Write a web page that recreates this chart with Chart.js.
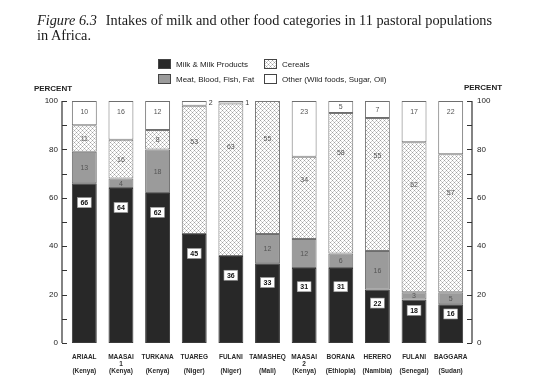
<!DOCTYPE html>
<html>
<head>
<meta charset="utf-8">
<script src="https://cdn.jsdelivr.net/npm/chart.js@4.4.0/dist/chart.umd.min.js"></script>
<style>
    html, body { margin: 0; padding: 0; background: #fff; }
    #wrap { position: relative; width: 541px; height: 385px; overflow: hidden; }
    #chart { position: absolute; left: 0; top: 0; }
    .caption {
        position: absolute; left: 37px; top: 13px; width: 500px;
        font-family: "Liberation Serif", "DejaVu Serif", serif;
        font-size: 14.3px; line-height: 15px; color: #1a1a1a;
    }
    .caption i { margin-right: 9px; }
</style>
</head>
<body>
<div id="wrap">
    <canvas id="chart" width="541" height="385"></canvas>
    <div class="caption"><i>Figure 6.3</i>Intakes of milk and other food categories in 11 pastoral populations<br>in Africa.</div>
</div>
<script>
// Data (percent of intake)
const categories = ['ARIAAL', 'MAASAI', 'TURKANA', 'TUAREG', 'FULANI', 'TAMASHEQ', 'MAASAI', 'BORANA', 'HERERO', 'FULANI', 'BAGGARA'];
const groupNumbers = ['', '1', '', '', '', '', '2', '', '', '', ''];
const countries = ['(Kenya)', '(Kenya)', '(Kenya)', '(Niger)', '(Niger)', '(Mali)', '(Kenya)', '(Ethiopia)', '(Namibia)', '(Senegal)', '(Sudan)'];

const milk = [66, 64, 62, 45, 36, 33, 31, 31, 22, 18, 16];
const meat = [13, 4, 18, 0, 0, 12, 12, 6, 16, 3, 5];
const cereals = [11, 16, 8, 53, 63, 55, 34, 58, 55, 62, 57];
const other = [10, 16, 12, 2, 1, 0, 23, 5, 7, 17, 22];

const seriesNames = ['Milk & Milk Products', 'Meat, Blood, Fish, Fat', 'Cereals', 'Other (Wild foods, Sugar, Oil)'];
const yTicks = [0, 20, 40, 60, 80, 100];

const SANS = '"Liberation Sans", Arial, sans-serif';

// dotted cross-hatch used for cereals
function makeCerealPattern() {
    const c = document.createElement('canvas');
    c.width = 4;
    c.height = 4;
    const g = c.getContext('2d');
    g.fillStyle = '#ffffff';
    g.fillRect(0, 0, 4, 4);
    g.fillStyle = '#a0a0a0';
    g.fillRect(0, 0, 1, 1);
    g.fillRect(2, 2, 1, 1);
    g.fillStyle = '#cfcfcf';
    g.fillRect(1, 1, 1, 1);
    g.fillRect(3, 3, 1, 1);
    g.fillRect(3, 1, 1, 1);
    g.fillRect(1, 3, 1, 1);
    return g.createPattern(c, 'repeat');
}

const ctx = document.getElementById('chart').getContext('2d');
const cerealFill = makeCerealPattern();

const labels = categories.map((name, i) => [name, groupNumbers[i], countries[i]]);

// inward tick marks and axis lines on both sides
const axisPlugin = {
    id: 'axisPlugin',
    afterDraw(chart) {
        const c = chart.ctx;
        const area = chart.chartArea;
        const y = chart.scales.y;
        const lx = area.left - 4;
        const rx = area.right + 3;
        c.save();
        c.strokeStyle = '#333';
        c.lineWidth = 1.2;
        c.beginPath();
        c.moveTo(lx, y.getPixelForValue(100));
        c.lineTo(lx, y.getPixelForValue(0));
        c.moveTo(rx, y.getPixelForValue(100));
        c.lineTo(rx, y.getPixelForValue(0));
        for (let v = 0; v <= 100; v += 10) {
            const py = Math.round(y.getPixelForValue(v)) + 0.5;
            c.moveTo(lx, py);
            c.lineTo(lx + 5, py);
            c.moveTo(rx, py);
            c.lineTo(rx - 5, py);
        }
        c.stroke();

        c.fillStyle = '#222';
        c.font = 'bold 8px ' + SANS;
        c.textAlign = 'center';
        c.textBaseline = 'middle';
        c.fillText('PERCENT', lx - 9, y.getPixelForValue(100) - 12);
        c.fillText('PERCENT', rx + 11, y.getPixelForValue(100) - 13);
        c.restore();
    }
};

// values written on the segments
const segmentLabels = {
    id: 'segmentLabels',
    afterDatasetsDraw(chart) {
        const c = chart.ctx;
        const y = chart.scales.y;
        const sets = chart.data.datasets;
        c.save();
        c.textAlign = 'center';
        c.textBaseline = 'middle';
        for (let j = 0; j < categories.length; j++) {
            let base = 0;
            sets.forEach((ds, i) => {
                const v = ds.data[j];
                const top = base + v;
                const bar = chart.getDatasetMeta(i).data[j];
                if (v > 0) {
                    let pos;
                    if (i === 0) pos = v - Math.min(8, v * 0.25);
                    else if (i === 2) pos = v > 20 ? top - v * 0.28 : base + v / 2;
                    else if (i === 3) pos = top - Math.min(v / 2, 4.5);
                    else pos = base + v / 2;
                    const py = y.getPixelForValue(pos);
                    if (i === 0) {
                        c.font = 'bold 7px ' + SANS;
                        const w = c.measureText(String(v)).width + 6;
                        c.fillStyle = '#fff';
                        c.fillRect(bar.x - w / 2, py - 5, w, 10);
                        c.strokeStyle = '#999';
                        c.lineWidth = 0.6;
                        c.strokeRect(bar.x - w / 2, py - 5, w, 10);
                        c.fillStyle = '#111';
                        c.fillText(String(v), bar.x, py + 0.5);
                    } else if (i === 3 && v < 3) {
                        c.font = '7px ' + SANS;
                        c.fillStyle = '#333';
                        c.fillText(String(v), bar.x + bar.width / 2 + 4, y.getPixelForValue(99));
                    } else {
                        c.font = '7px ' + SANS;
                        c.fillStyle = '#555';
                        c.fillText(String(v), bar.x, py + 0.5);
                    }
                }
                base = top;
            });
        }
        c.restore();
    }
};

// 2 x 2 legend above the plot
const gridLegend = {
    id: 'gridLegend',
    afterDraw(chart) {
        const c = chart.ctx;
        const cols = [158, 264];
        const rows = [59, 74];
        c.save();
        c.font = '8px ' + SANS;
        c.textBaseline = 'middle';
        c.textAlign = 'left';
        chart.data.datasets.forEach((ds, i) => {
            const x = cols[Math.floor(i / 2)];
            const yy = rows[i % 2];
            c.fillStyle = ds.backgroundColor;
            c.fillRect(x, yy, 13, 10);
            c.strokeStyle = '#444';
            c.lineWidth = 1;
            c.strokeRect(x + 0.5, yy + 0.5, 12, 9);
            c.fillStyle = '#222';
            c.fillText(ds.label, x + 18, yy + 5.5);
        });
        c.restore();
    }
};

const tickFont = { family: SANS, size: 8 };

new Chart(ctx, {
    type: 'bar',
    data: {
        labels: labels,
        datasets: [
            { label: seriesNames[0], data: milk, backgroundColor: '#282828', borderColor: '#3a3a3a' },
            { label: seriesNames[1], data: meat, backgroundColor: '#9b9b9b', borderColor: '#6e6e6e' },
            { label: seriesNames[2], data: cereals, backgroundColor: cerealFill, borderColor: '#777' },
            { label: seriesNames[3], data: other, backgroundColor: '#ffffff', borderColor: '#6e6e6e' }
        ]
    },
    options: {
        responsive: false,
        animation: false,
        layout: { padding: { top: 101, left: 0, right: 0, bottom: 0 } },
        datasets: {
            bar: {
                borderWidth: 1,
                borderSkipped: false,
                categoryPercentage: 1,
                barPercentage: 0.68
            }
        },
        plugins: {
            legend: { display: false },
            tooltip: { enabled: false }
        },
        scales: {
            x: {
                stacked: true,
                grid: { display: false },
                border: { display: false },
                ticks: {
                    font: { family: SANS, size: 6.5, weight: 'bold', lineHeight: 1.08 },
                    color: '#2a2a2a',
                    padding: 3,
                    maxRotation: 0,
                    autoSkip: false
                },
                afterFit(scale) { scale.height = 42; }
            },
            y: {
                stacked: true,
                min: 0,
                max: 100,
                position: 'left',
                grid: { display: false },
                border: { display: false },
                afterBuildTicks(scale) { scale.ticks = yTicks.map(v => ({ value: v })); },
                ticks: { font: tickFont, color: '#222', padding: 0 },
                afterFit(scale) { scale.width = 66; }
            },
            y2: {
                min: 0,
                max: 100,
                position: 'right',
                grid: { display: false },
                border: { display: false },
                afterBuildTicks(scale) { scale.ticks = yTicks.map(v => ({ value: v })); },
                ticks: { font: tickFont, color: '#222', padding: 0 },
                afterFit(scale) { scale.width = 72; }
            }
        }
    },
    plugins: [axisPlugin, segmentLabels, gridLegend]
});
</script>
</body>
</html>
